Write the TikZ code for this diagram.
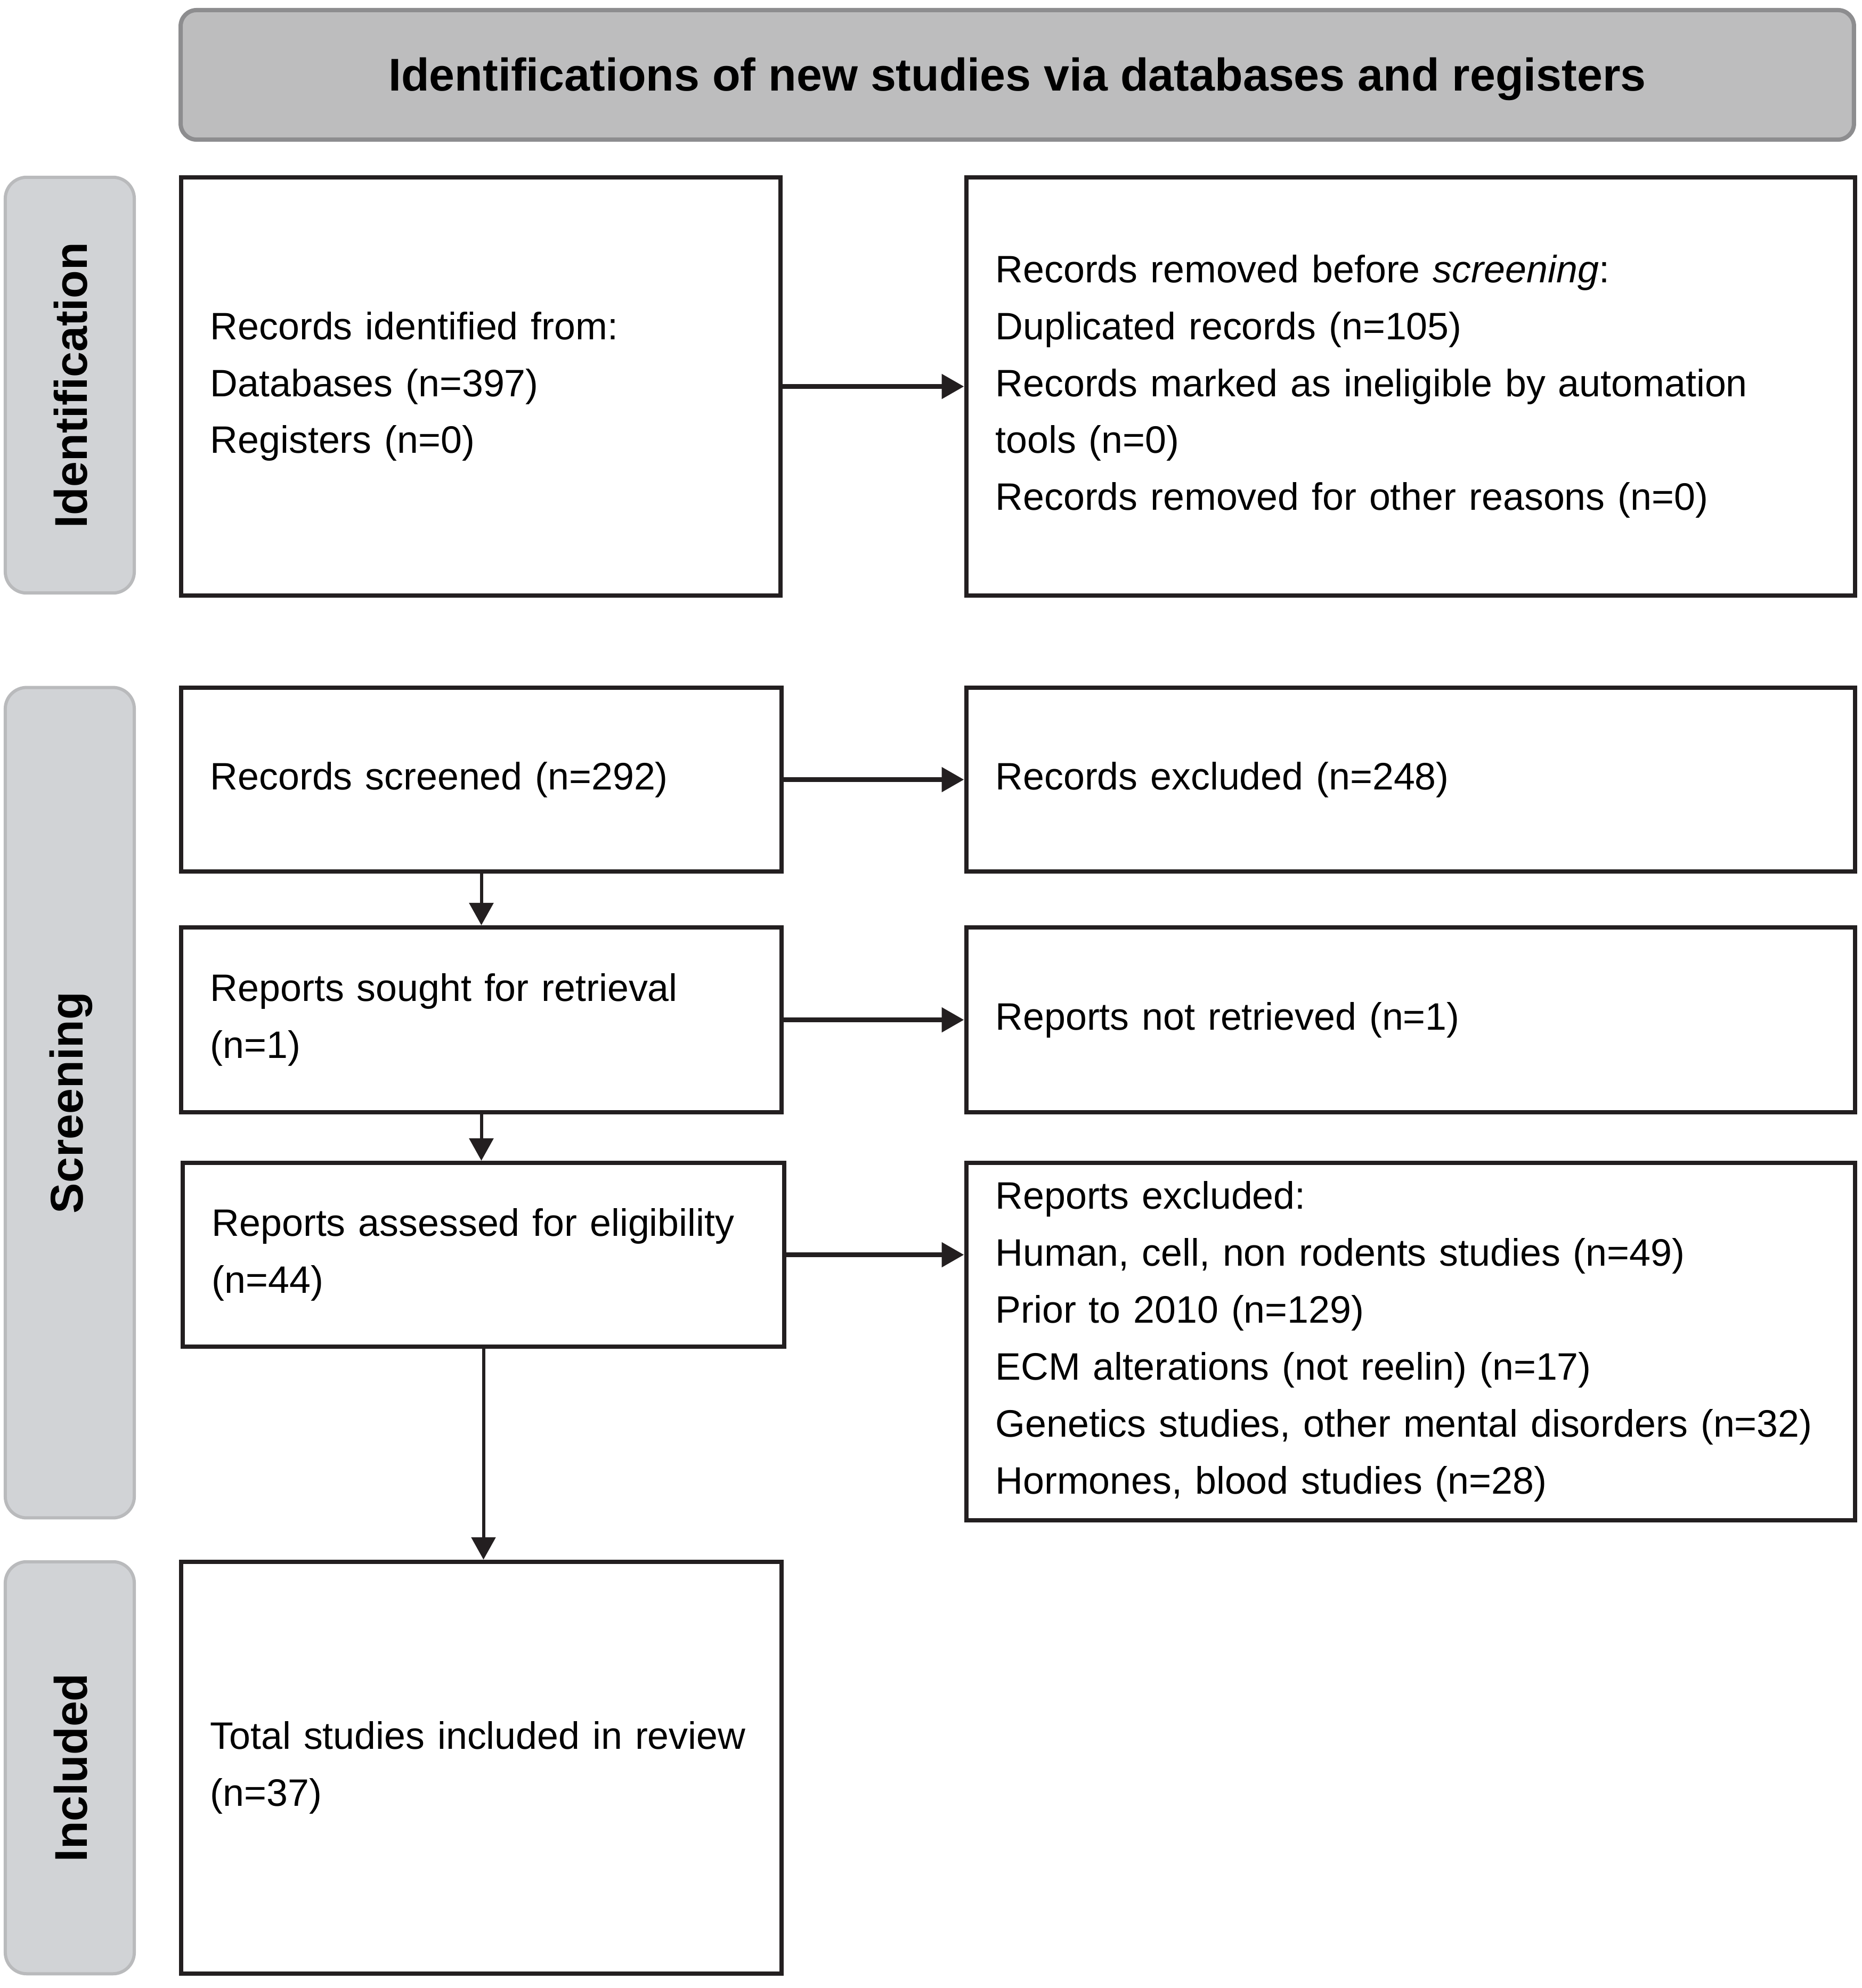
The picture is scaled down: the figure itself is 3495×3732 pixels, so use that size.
\documentclass[tikz,border=0pt]{standalone}
\usepackage{fontspec}
\setmainfont{Liberation Sans}
\usetikzlibrary{arrows.meta}
\definecolor{lc}{HTML}{231F20}
\definecolor{hdrfill}{HTML}{BDBDBE}
\definecolor{hdrdraw}{HTML}{8D8D8F}
\definecolor{sidefill}{HTML}{D1D3D6}
\definecolor{sidedraw}{HTML}{B9BABC}
\begin{document}
\begin{tikzpicture}[x=0.01cm,y=-0.01cm,
  box/.style={draw=lc, line width=0.08cm, inner xsep=0.55cm, inner ysep=0pt, align=left,
    font=\fontsize{20.4}{30.4}\selectfont, text=black},
  hdr/.style={draw=hdrdraw, fill=hdrfill, line width=0.08cm, rounded corners=0.3cm, inner sep=0pt,
    minimum width=31.39cm, minimum height=2.43cm},
  hdrtext/.style={inner sep=0pt, font=\bfseries\fontsize{24.5}{30}\selectfont},
  side/.style={draw=sidedraw, fill=sidefill, line width=0.06cm, rounded corners=0.4cm, inner sep=0pt,
    minimum width=2.42cm},
  sidetext/.style={rotate=90, inner sep=0pt, font=\bfseries\fontsize{24.5}{30}\selectfont},
  harr/.style={draw=lc, line width=0.09cm, -{Triangle[length=0.42cm,width=0.45cm]}},
  varr/.style={draw=lc, line width=0.06cm, -{Triangle[length=0.42cm,width=0.45cm]}}
]
\useasboundingbox (0,0) rectangle (3495,3732);

% header
\node[hdr] (hdr) at (1909.5,140.5) {};
\node[hdrtext] (hdrt) at ([yshift=-0.08cm]hdr.center) {Identifications of new studies via databases and registers};

% side labels
\node[side, minimum height=7.80cm] (s1) at (131,723) {};
\node[sidetext] (s1t) at ([xshift=0.02cm]s1.center) {Identification};
\node[side, minimum height=15.58cm] (s2) at (131,2070) {};
\node[sidetext] (s2t) at ([xshift=0.02cm]s2.center) {Screening};
\node[side, minimum height=7.73cm] (s3) at (131,3318.5) {};
\node[sidetext] (s3t) at ([xshift=0.02cm]s3.center) {Included};

% boxes
\node[box, text width=10.15cm, minimum height=7.85cm] (b1) at (902.5,725.5)
  {Records identified from:\\Databases (n=397)\\Registers (n=0)};
\node[box, text width=15.57cm, minimum height=7.85cm] (b2) at (2647.5,725.5)
  {Records removed before \textit{screening}:\\Duplicated records (n=105)\\Records marked as ineligible by automation\\tools (n=0)\\Records removed for other reasons (n=0)};
\node[box, text width=10.17cm, minimum height=3.45cm] (b3) at (903.5,1463.5)
  {Records screened (n=292)};
\node[box, text width=15.57cm, minimum height=3.45cm] (b4) at (2647.5,1463.5)
  {Records excluded (n=248)};
\node[box, text width=10.17cm, minimum height=3.47cm] (b5) at (903.5,1914.5)
  {Reports sought for retrieval\\(n=1)};
\node[box, text width=15.57cm, minimum height=3.47cm] (b6) at (2647.5,1914.5)
  {Reports not retrieved (n=1)};
\node[box, text width=10.19cm, minimum height=3.45cm] (b7) at (907.5,2355.5)
  {Reports assessed for eligibility\\(n=44)};
\node[box, text width=15.57cm, minimum height=6.71cm] (b8) at (2647.5,2518.5)
  {Reports excluded:\\Human, cell, non rodents studies (n=49)\\Prior to 2010 (n=129)\\ECM alterations (not reelin) (n=17)\\Genetics studies, other mental disorders (n=32)\\Hormones, blood studies (n=28)};
\node[box, text width=10.17cm, minimum height=7.73cm] (b9) at (903.5,3318.5)
  {Total studies included in review\\(n=37)};

% connectors
\draw[harr] (b1.east) -- (b2.west);
\draw[harr] (b3.east) -- (b4.west);
\draw[harr] (b5.east) -- (b6.west);
\draw[harr] (b7.east) -- (b7.east -| b8.west);
\draw[varr] (b3.south) -- (b5.north);
\draw[varr] (b5.south) -- (b5.south |- b7.north);
\draw[varr] (b7.south) -- (b7.south |- b9.north);
\end{tikzpicture}
\end{document}
